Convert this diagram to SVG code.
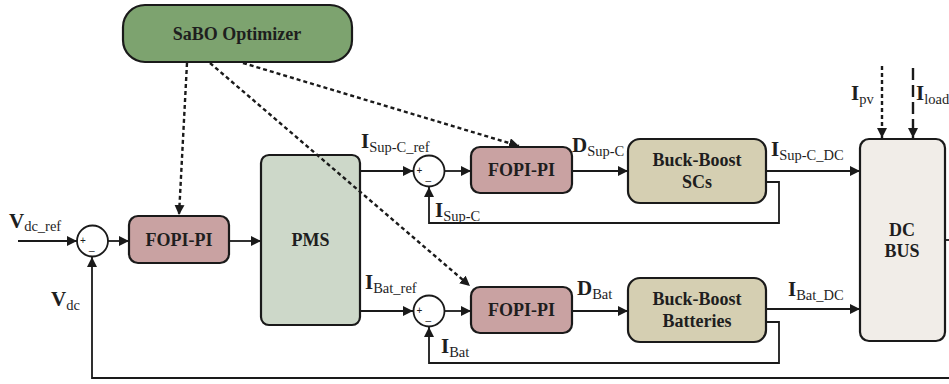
<svg xmlns="http://www.w3.org/2000/svg" width="949" height="384" viewBox="0 0 949 384">
<style>
.box{stroke:#1a1a1a;stroke-width:2.2}
.ln{fill:none;stroke:#1a1a1a;stroke-width:1.8}
.dash{fill:none;stroke:#1a1a1a;stroke-width:2.4;stroke-dasharray:4 3}
.dash2{fill:none;stroke:#1a1a1a;stroke-width:2.4;stroke-dasharray:12 5}
.sum{fill:#fff;stroke:#1a1a1a;stroke-width:1.8}
.t{font-family:"Liberation Serif","Times New Roman",serif;font-weight:bold;fill:#1e1e1e;text-anchor:middle;font-size:18px}
.lb{font-family:"Liberation Serif","Times New Roman",serif;font-weight:bold;fill:#1e1e1e;font-size:21px}
.sb{font-weight:normal;font-size:14.5px}
.sg{font-family:"Liberation Sans",Arial,sans-serif;font-size:10px;fill:#1e1e1e}
</style>
<defs>
<marker id="ar" viewBox="0 0 10 10" refX="10" refY="5" markerWidth="10" markerHeight="10" markerUnits="userSpaceOnUse" orient="auto">
<path d="M0,0 L10,5 L0,10 z" fill="#1a1a1a"/>
</marker>
</defs>
<rect width="949" height="384" fill="#fff"/>
<g id="sabo">
<rect class="box" x="123" y="5" width="229" height="57" rx="22" fill="#7da36f"/>
<text class="t" x="237" y="40">SaBO Optimizer</text>
</g>
<g id="sum1">
<circle class="sum" cx="92.5" cy="241" r="15.5"/>
<text class="sg" x="80" y="244">+</text>
<text class="sg" x="89" y="250">_</text>
</g>
<g id="fopi1">
<rect class="box" x="129" y="216" width="100" height="47" rx="9" fill="#c9a2a2"/>
<text class="t" x="179" y="246">FOPI-PI</text>
</g>
<g id="pms">
<rect class="box" x="261" y="155" width="99" height="170" rx="8" fill="#cdd8c9"/>
<text class="t" x="310.5" y="246">PMS</text>
</g>
<g id="sum2">
<circle class="sum" cx="429" cy="171" r="15.5"/>
<text class="sg" x="416.5" y="174">+</text>
<text class="sg" x="425.5" y="180">_</text>
</g>
<g id="fopi2">
<rect class="box" x="471" y="147" width="101" height="46" rx="9" fill="#c9a2a2"/>
<text class="t" x="521.5" y="176">FOPI-PI</text>
</g>
<g id="bbsc">
<rect class="box" x="628" y="139" width="138" height="64" rx="12" fill="#d5cfb2"/>
<text class="t" x="697" y="166">Buck-Boost</text>
<text class="t" x="697" y="188">SCs</text>
</g>
<g id="sum3">
<circle class="sum" cx="429" cy="311" r="15.5"/>
<text class="sg" x="416.5" y="314">+</text>
<text class="sg" x="425.5" y="320">_</text>
</g>
<g id="fopi3">
<rect class="box" x="471" y="287" width="101" height="46" rx="9" fill="#c9a2a2"/>
<text class="t" x="521.5" y="316">FOPI-PI</text>
</g>
<g id="bbbat">
<rect class="box" x="628" y="278" width="138" height="64" rx="12" fill="#d5cfb2"/>
<text class="t" x="697" y="305">Buck-Boost</text>
<text class="t" x="697" y="327">Batteries</text>
</g>
<g id="dcbus">
<rect class="box" x="860" y="139" width="85" height="202" rx="9" fill="#f1ede8"/>
<text class="t" x="902" y="236">DC</text>
<text class="t" x="902" y="257">BUS</text>
</g>
<g id="connectors">
<line class="ln" x1="18" y1="241" x2="77" y2="241" marker-end="url(#ar)"/>
<line class="ln" x1="108" y1="241" x2="129" y2="241" marker-end="url(#ar)"/>
<line class="ln" x1="229" y1="241" x2="261" y2="241" marker-end="url(#ar)"/>
<polyline class="ln" points="949,378 92,378 92,257" marker-end="url(#ar)"/>
<line class="ln" x1="945" y1="240" x2="949" y2="240"/>
<line class="ln" x1="360" y1="171" x2="413" y2="171" marker-end="url(#ar)"/>
<line class="ln" x1="445" y1="171" x2="471" y2="171" marker-end="url(#ar)"/>
<line class="ln" x1="572" y1="171" x2="628" y2="171" marker-end="url(#ar)"/>
<line class="ln" x1="766" y1="171" x2="860" y2="171" marker-end="url(#ar)"/>
<polyline class="ln" points="766,182 779,182 779,223 429,223 429,187" marker-end="url(#ar)"/>
<line class="ln" x1="360" y1="311" x2="413" y2="311" marker-end="url(#ar)"/>
<line class="ln" x1="445" y1="311" x2="471" y2="311" marker-end="url(#ar)"/>
<line class="ln" x1="572" y1="311" x2="628" y2="311" marker-end="url(#ar)"/>
<line class="ln" x1="766" y1="309" x2="860" y2="309" marker-end="url(#ar)"/>
<polyline class="ln" points="766,322 779,322 779,363 429,363 429,327" marker-end="url(#ar)"/>
<line class="dash" x1="187" y1="63" x2="179" y2="215" marker-end="url(#ar)"/>
<line class="dash" x1="210" y1="63" x2="470" y2="286" marker-end="url(#ar)"/>
<line class="dash" x1="243" y1="63" x2="519" y2="146" marker-end="url(#ar)"/>
<line class="dash" x1="882" y1="66" x2="882" y2="138" marker-end="url(#ar)"/>
<line class="dash2" x1="913" y1="68" x2="913" y2="138" marker-end="url(#ar)"/>
</g>
<g id="labels">
<text class="lb" x="9" y="228">V<tspan class="sb" dy="3">dc_ref</tspan></text>
<text class="lb" x="51" y="306">V<tspan class="sb" dy="4">dc</tspan></text>
<text class="lb" x="361" y="148">I<tspan class="sb" dy="4">Sup-C_ref</tspan></text>
<text class="lb" x="435" y="217">I<tspan class="sb" dy="4">Sup-C</tspan></text>
<text class="lb" x="572" y="152">D<tspan class="sb" dy="4">Sup-C</tspan></text>
<text class="lb" x="771" y="156">I<tspan class="sb" dy="4">Sup-C_DC</tspan></text>
<text class="lb" x="365" y="289">I<tspan class="sb" dy="4">Bat_ref</tspan></text>
<text class="lb" x="441" y="353">I<tspan class="sb" dy="4">Bat</tspan></text>
<text class="lb" x="577" y="295">D<tspan class="sb" dy="4">Bat</tspan></text>
<text class="lb" x="788" y="296">I<tspan class="sb" dy="4">Bat_DC</tspan></text>
<text class="lb" x="851" y="100">I<tspan class="sb" dy="4">pv</tspan></text>
<text class="lb" x="916" y="100">I<tspan class="sb" dy="4">load</tspan></text>
</g>
</svg>
